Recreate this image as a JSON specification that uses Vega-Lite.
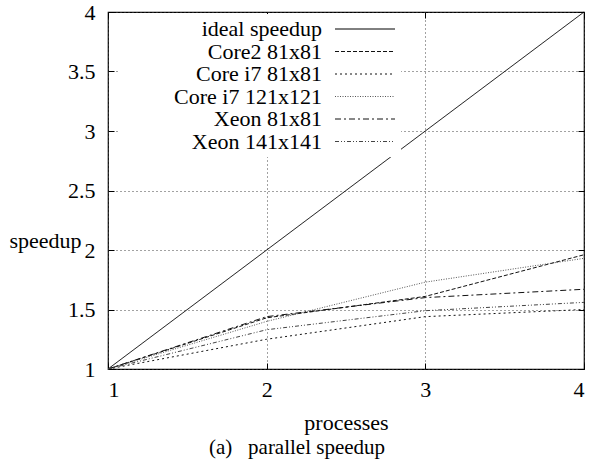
{
  "$schema": "https://vega.github.io/schema/vega-lite/v6.json",
  "width": 476,
  "height": 357,
  "autosize": {"type": "none"},
  "padding": {"left": 108, "top": 12, "right": 11, "bottom": 96},
  "background": "white",
  "config": {
    "font": "Liberation Serif",
    "view": {"stroke": "black", "strokeWidth": 1.2},
    "axis": {"labelFont": "Liberation Serif", "titleFont": "Liberation Serif", "labelFontSize": 22, "titleFontSize": 22, "labelColor": "black", "titleColor": "black", "titleFontWeight": "normal", "domainColor": "black", "tickColor": "black"}
  },
  "title": {"text": "(a)\u00a0\u00a0\u00a0parallel speedup", "orient": "bottom", "anchor": "start", "frame": "group", "dx": 101, "offset": 4, "fontSize": 21, "font": "Liberation Serif", "fontWeight": "normal", "color": "black"},
  "data": {"values": [
    {"processes": 1, "speedup": 1, "series": "ideal speedup"},
    {"processes": 4, "speedup": 4, "series": "ideal speedup"},
    {"processes": 1, "speedup": 1, "series": "Core2 81x81"},
    {"processes": 2, "speedup": 1.43, "series": "Core2 81x81"},
    {"processes": 3, "speedup": 1.61, "series": "Core2 81x81"},
    {"processes": 4, "speedup": 1.96, "series": "Core2 81x81"},
    {"processes": 1, "speedup": 1, "series": "Core i7 81x81"},
    {"processes": 2, "speedup": 1.25, "series": "Core i7 81x81"},
    {"processes": 3, "speedup": 1.44, "series": "Core i7 81x81"},
    {"processes": 4, "speedup": 1.5, "series": "Core i7 81x81"},
    {"processes": 1, "speedup": 1, "series": "Core i7 121x121"},
    {"processes": 2, "speedup": 1.4, "series": "Core i7 121x121"},
    {"processes": 3, "speedup": 1.73, "series": "Core i7 121x121"},
    {"processes": 4, "speedup": 1.93, "series": "Core i7 121x121"},
    {"processes": 1, "speedup": 1, "series": "Xeon 81x81"},
    {"processes": 2, "speedup": 1.44, "series": "Xeon 81x81"},
    {"processes": 3, "speedup": 1.6, "series": "Xeon 81x81"},
    {"processes": 4, "speedup": 1.67, "series": "Xeon 81x81"},
    {"processes": 1, "speedup": 1, "series": "Xeon 141x141"},
    {"processes": 2, "speedup": 1.33, "series": "Xeon 141x141"},
    {"processes": 3, "speedup": 1.49, "series": "Xeon 141x141"},
    {"processes": 4, "speedup": 1.56, "series": "Xeon 141x141"}
  ]},
  "layer": [
    {
      "mark": {"type": "line", "strokeWidth": 1},
      "encoding": {
        "x": {"field": "processes", "type": "quantitative", "scale": {"domain": [1, 4], "nice": false, "zero": false},
              "axis": {"orient": "bottom", "values": [1, 2, 3, 4], "format": "d", "labelFont": "Liberation Serif", "labelFontSize": 22, "title": "processes", "titleY": 60, "titleBaseline": "alphabetic", "grid": true, "gridDash": [1, 3], "gridColor": "#444", "tickSize": -6, "labelPadding": 16, "domain": false}},
        "y": {"field": "speedup", "type": "quantitative", "scale": {"domain": [1, 4], "nice": false, "zero": false},
              "axis": {"orient": "left", "values": [1, 1.5, 2, 2.5, 3, 3.5, 4], "format": "~g", "labelFont": "Liberation Serif", "labelFontSize": 22, "title": "speedup", "titleAngle": 0, "titleX": -63, "titleY": 228, "titleAlign": "center", "titleBaseline": "middle", "grid": true, "gridDash": [1, 3], "gridColor": "#444", "tickSize": -6, "labelPadding": 19, "domain": false}},
        "color": {"field": "series", "type": "nominal", "title": null,
                  "scale": {"domain": ["ideal speedup", "Core2 81x81", "Core i7 81x81", "Core i7 121x121", "Xeon 81x81", "Xeon 141x141"], "range": ["#000000", "#111111", "#111111", "#555555", "#111111", "#444444"]},
                  "legend": {"orient": "none", "legendX": 12, "legendY": 2, "labelAlign": "right", "labelOffset": -54, "symbolOffset": 230, "symbolType": "M-3,0H3", "symbolSize": 400, "symbolStrokeWidth": 1, "labelFontSize": 22, "labelFont": "Liberation Serif", "labelColor": "black", "fillColor": "white", "rowPadding": 0.5, "padding": 4, "labelLimit": 300}},
        "strokeDash": {"field": "series", "type": "nominal", "title": null,
                  "scale": {"domain": ["ideal speedup", "Core2 81x81", "Core i7 81x81", "Core i7 121x121", "Xeon 81x81", "Xeon 141x141"], "range": [[1, 0], [4, 2], [2, 3], [1, 1.5], [6, 3, 2, 3], [4, 2, 1, 2, 1, 2]]}}
      }
    },
    {
      "mark": {"type": "point", "opacity": 0},
      "encoding": {
        "x": {"field": "processes", "type": "quantitative", "axis": {"orient": "top", "values": [1, 2, 3, 4], "labels": false, "title": null, "tickSize": -6, "domain": false, "grid": false}},
        "y": {"field": "speedup", "type": "quantitative", "axis": {"orient": "right", "values": [1, 1.5, 2, 2.5, 3, 3.5, 4], "labels": false, "title": null, "tickSize": -6, "domain": false, "grid": false}}
      }
    }
  ],
  "resolve": {"axis": {"x": "independent", "y": "independent"}}
}
